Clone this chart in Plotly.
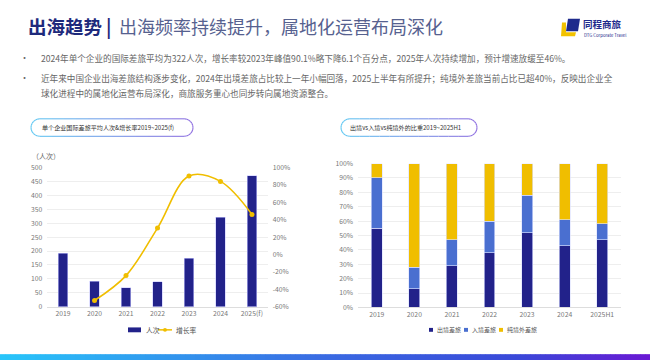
import math
import plotly.graph_objects as go

W, H = 650, 364
FONT = "Noto Sans CJK SC"

# ---------------- data ----------------
years_left = ["2019", "2020", "2021", "2022", "2023", "2024", "2025(f)"]
trips = [193, 91, 69, 90, 174, 322, 470]
growth_years = ["2020", "2021", "2022", "2023", "2024", "2025(f)"]
growth_rate = [-52.8, -24.2, 30.4, 90.1, 84.0, 46.0]
left_yticks = [0, 50, 100, 150, 200, 250, 300, 350, 400, 450, 500]
right_yticks = [-60, -40, -20, 0, 20, 40, 60, 80, 100]

years_right = ["2019", "2020", "2021", "2022", "2023", "2024", "2025H1"]
outbound = [55, 13, 29, 38, 52, 43, 47]
inbound = [35, 15, 18, 22, 26, 18, 11]
overseas = [10, 72, 53, 40, 22, 39, 42]
share_ticks = [0, 10, 20, 30, 40, 50, 60, 70, 80, 90, 100]

left_names = ["人次", "增长率"]
right_names = ["出境差旅", "入境差旅", "纯境外差旅"]

title_main = "出海趋势"
title_sub = "出海频率持续提升，属地化运营布局深化"
bullet1 = "2024年单个企业的国际差旅平均为322人次，增长率较2023年峰值90.1%略下降6.1个百分点，2025年人次持续增加，预计增速放缓至46%。"
bullet2a = "近年来中国企业出海差旅结构逐步变化，2024年出境差旅占比较上一年小幅回落，2025上半年有所提升；纯境外差旅当前占比已超40%，反映出企业全"
bullet2b = "球化进程中的属地化运营布局深化，商旅服务重心也同步转向属地资源整合。"
pill_left = "单个企业国际差旅平均人次&增长率2019~2025(f)"
pill_right = "出境vs入境vs纯境外的比重2019~2025H1"

NAVY = "#22228a"
BLUE = "#4a6fd0"
YELLOW = "#f0be00"
series_colors = [NAVY, BLUE, YELLOW]


def px(x):
    return x / W


def py(y):
    return 1 - y / H


fig = go.Figure()

# ---------------- left chart ----------------
fig.add_trace(go.Bar(
    x=years_left, y=trips, name=left_names[0], width=0.31,
    marker=dict(color=NAVY, line=dict(color="rgba(200,200,255,0.7)", width=0.8)),
    xaxis="x", yaxis="y", showlegend=False,
))
fig.add_trace(go.Scatter(
    x=growth_years, y=growth_rate, name=left_names[1], mode="lines+markers",
    line=dict(color=YELLOW, width=1.6, shape="spline", smoothing=1.0),
    marker=dict(color=YELLOW, size=5),
    xaxis="x", yaxis="y2", showlegend=False,
))

# ---------------- right chart ----------------
for name, vals, col in zip(right_names, [outbound, inbound, overseas], series_colors):
    fig.add_trace(go.Bar(
        x=years_right, y=vals, name=name, width=0.29,
        marker=dict(color=col, line=dict(color="rgba(220,225,255,0.8)", width=0.8)),
        xaxis="x3", yaxis="y3", showlegend=False,
    ))

tickfont = dict(family=FONT, size=6.8, color="#777")

fig.update_layout(
    width=W, height=H, autosize=False,
    margin=dict(l=0, r=0, t=0, b=0),
    paper_bgcolor="white", plot_bgcolor="white",
    barmode="stack", showlegend=False,
    font=dict(family=FONT, color="#555"),
    xaxis=dict(domain=[px(47.3), px(267.7)], type="category", tickfont=tickfont,
               showgrid=False, showline=True, linecolor="#dddddd", ticks="", anchor="y"),
    yaxis=dict(domain=[py(309.3), py(166)], range=[0, 500], tickvals=left_yticks,
               ticktext=[str(v) for v in left_yticks],
               tickfont=tickfont, showgrid=True, gridcolor="#eeeeee", zeroline=False,
               anchor="x", ticklabelstandoff=4),
    yaxis2=dict(overlaying="y", side="right", range=[-60, 100], tickvals=right_yticks,
                ticktext=[f"{v}%" for v in right_yticks], tickfont=tickfont,
                showgrid=False, zeroline=False, anchor="x", ticklabelstandoff=4),
    xaxis3=dict(domain=[px(358), px(621)], type="category", tickfont=tickfont,
                showgrid=False, showline=True, linecolor="#dddddd", ticks="", anchor="y3"),
    yaxis3=dict(domain=[py(310), py(162)], range=[0, 100], tickvals=share_ticks,
                ticktext=[f"{v}%" for v in share_ticks], tickfont=tickfont,
                showgrid=True, gridcolor="#eeeeee",
                zeroline=False, anchor="x3", ticklabelstandoff=4),
)

annotations = []
shapes = []


def text(t, x, y, size, color, anchor="left", bold=False):
    annotations.append(dict(text=("<b>" + t + "</b>") if bold else t, x=px(x), y=py(y),
                            xref="paper", yref="paper", xanchor=anchor, yanchor="middle",
                            showarrow=False, font=dict(family=FONT, size=size, color=color)))


# header
text(title_main, 26, 21, 18.5, "#1e2a7c", bold=True)
text("|", 104, 21, 18.5, "#1e2a7c", bold=True)
text(title_sub, 117, 21, 18, "#56618f")

# logo
shapes.append(dict(type="path", xref="paper", yref="paper",
                   path=f"M {px(562)},{py(17)} L {px(566)},{py(17)} L {px(566)},{py(27)} L {px(576)},{py(27)} L {px(575)},{py(31)} L {px(561)},{py(31)} Z",
                   fillcolor="#f2c200", line=dict(width=0)))
shapes.append(dict(type="path", xref="paper", yref="paper",
                   path=f"M {px(568)},{py(13)} L {px(580)},{py(13)} L {px(578)},{py(26)} L {px(566)},{py(26)} Z",
                   fillcolor="#1e2a8c", line=dict(width=0)))
text("同程商旅", 581, 18, 9.5, "#1e2a8c", bold=True)
text("DTG Corporate Travel", 582, 30, 4.3, "#1e2a8c")

# bullets
for txt, yy, dot in [(bullet1, 53, True), (bullet2a, 74, True), (bullet2b, 89, False)]:
    if dot:
        text("•", 24, yy, 9, "#666", anchor="center")
    text(txt, 39, yy, 8.6, "#666")


# pills with gradient border
def hex2rgb(h):
    h = h.lstrip("#")
    return tuple(int(h[i:i + 2], 16) for i in (0, 2, 4))


def lerp_color(stops, t):
    for i in range(len(stops) - 1):
        t0, c0 = stops[i]
        t1, c1 = stops[i + 1]
        if t <= t1:
            f = 0 if t1 == t0 else (t - t0) / (t1 - t0)
            a, b = hex2rgb(c0), hex2rgb(c1)
            return "rgb({},{},{})".format(*[round(a[k] + (b[k] - a[k]) * f) for k in range(3)])
    return stops[-1][1]


def pill(x0, x1, y0, y1, label, tx):
    r = (y1 - y0) / 2
    n = 12
    cxl, cxr, cy = x0 + r, x1 - r, (y0 + y1) / 2
    top = [(cxl, y0), (cxr, y0)]
    right = [(cxr + r * math.sin(math.pi * k / n), cy - r * math.cos(math.pi * k / n)) for k in range(n + 1)]
    bottom = [(cxr, y1), (cxl, y1)]
    left = [(cxl - r * math.sin(math.pi * k / n), cy + r * math.cos(math.pi * k / n)) for k in range(n + 1)]
    pts = top + right + bottom + left
    stops = [(0, "#62c9f2"), (1, "#8f6fe0")]
    for i in range(len(pts) - 1):
        (ax, ay), (bx, by) = pts[i], pts[i + 1]
        steps = 12 if abs(ax - bx) > 20 else 1
        for s in range(steps):
            sx0 = ax + (bx - ax) * s / steps
            sx1 = ax + (bx - ax) * (s + 1) / steps
            sy0 = ay + (by - ay) * s / steps
            sy1 = ay + (by - ay) * (s + 1) / steps
            t = ((sx0 + sx1) / 2 - x0) / (x1 - x0)
            shapes.append(dict(type="line", xref="paper", yref="paper",
                               x0=px(sx0), x1=px(sx1), y0=py(sy0), y1=py(sy1),
                               line=dict(color=lerp_color(stops, t), width=1.1)))
    text(label, tx, cy, 6.1, "#333")


pill(31, 193, 116, 134, pill_left, 40)
pill(341, 477, 116, 134, pill_right, 348)

# axis unit label
text("（人次）", 30, 154, 7, "#666")

# manual legends
LY = 333
shapes.append(dict(type="rect", xref="paper", yref="paper", x0=px(128), x1=px(141),
                   y0=py(LY + 2.5), y1=py(LY - 2.5), fillcolor=NAVY, line=dict(width=0)))
text(left_names[0], 143.5, LY, 6.8, "#555")
shapes.append(dict(type="line", xref="paper", yref="paper", x0=px(158), x1=px(172),
                   y0=py(LY), y1=py(LY), line=dict(color=YELLOW, width=1.5)))
shapes.append(dict(type="circle", xref="paper", yref="paper", x0=px(163), x1=px(167),
                   y0=py(LY + 2), y1=py(LY - 2), fillcolor=YELLOW, line=dict(width=0)))
text(left_names[1], 173.5, LY, 6.8, "#555")

LFS = 6.0
sx = 429.0
for name, col in zip(right_names, series_colors):
    shapes.append(dict(type="rect", xref="paper", yref="paper", x0=px(sx), x1=px(sx + 4),
                       y0=py(LY + 2), y1=py(LY - 2), fillcolor=col, line=dict(width=0)))
    text(name, sx + 5.5, LY, LFS, "#555")
    sx += 5.5 + len(name) * LFS + 5.5

# bottom gradient bar
bar_stops = [(0, "#28c6fa"), (0.5, "#3a6ae2"), (0.8, "#3a48d8"), (1, "#6a18d4")]
step = 5
for x in range(0, W, step):
    t = (x + step / 2) / W
    shapes.append(dict(type="rect", xref="paper", yref="paper",
                       x0=px(x), x1=px(x + step + 0.5), y0=py(364), y1=py(358),
                       fillcolor=lerp_color(bar_stops, t), line=dict(width=0), layer="above"))

fig.update_layout(annotations=annotations, shapes=shapes)
fig.write_html("out.html", config={"displayModeBar": False},
               post_script="document.body.style.margin='0';document.body.style.overflow='hidden';")
